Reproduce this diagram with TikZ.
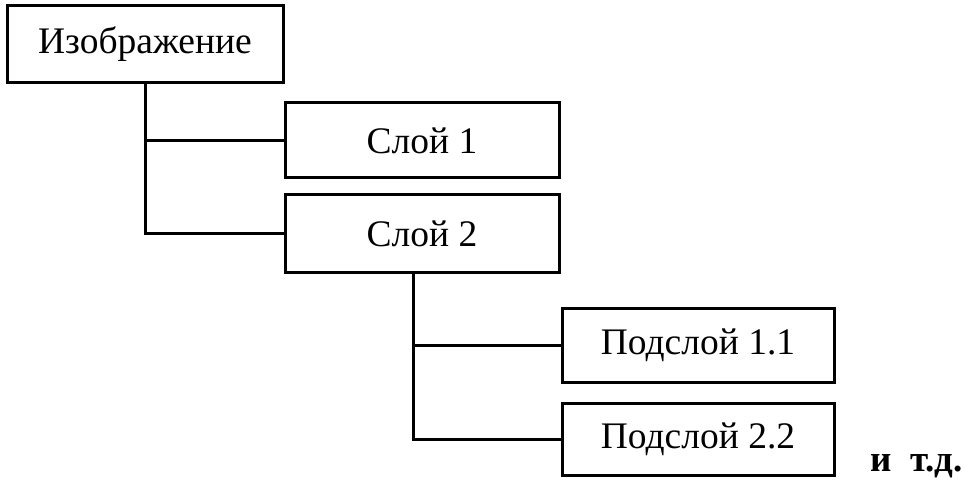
\documentclass[tikz,border=0pt]{standalone}
\usepackage{fontspec}
\setmainfont{Liberation Serif}
\begin{document}
\begin{tikzpicture}[x=1pt,y=-1pt,font=\fontsize{37.5}{44}\selectfont,
  layerbox/.style={draw,line width=3pt,inner sep=0pt,minimum width=274pt,minimum height=75pt},
  link/.style={line width=3pt}]
  \useasboundingbox (0,0) rectangle (966,481);
  \node[layerbox,minimum width=276pt,minimum height=77pt] (img) at (145,44.5) {Изображение};
  \node[layerbox] (l1) at (422,140.5) {Слой 1};
  \node[layerbox,minimum height=77pt] (l2) at (422,233.5) {Слой 2};
  \node[layerbox,minimum width=272pt,minimum height=74pt] (s1) at (698,345) {Подслой 1.1};
  \node[layerbox,minimum width=272pt,minimum height=72pt] (s2) at (698,439) {Подслой 2.2};
  \coordinate (t2) at ([xshift=-9pt]l2.south);
  \foreach \c in {l1,l2}{\draw[link] (img.south) |- (\c.west);}
  \foreach \c in {s1,s2}{\draw[link] (t2) |- (\c.west);}
  \node[anchor=base west,inner sep=0pt,font=\fontsize{37}{44}\selectfont\bfseries] (etc) at (870,471) {и\ \ т.д.};
\end{tikzpicture}
\end{document}
